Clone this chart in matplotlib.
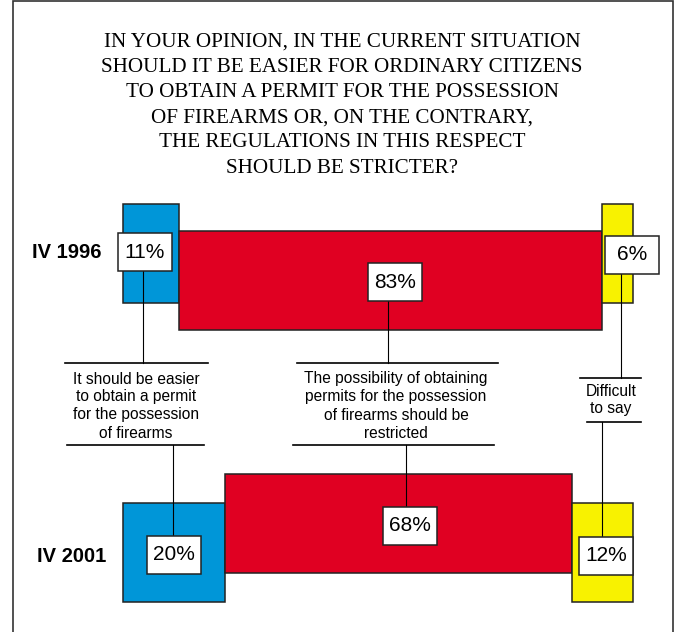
import matplotlib
matplotlib.use('Agg')
import matplotlib.pyplot as plt
from matplotlib.patches import Rectangle

plt.rcParams['font.family'] = ['Liberation Sans', 'DejaVu Sans']

# data
years = ['IV 1996', 'IV 2001']
easier = [11, 20]
stricter = [83, 68]
difficult = [6, 12]
answers = ['It should be easier\nto obtain a permit\nfor the possession\nof firearms',
           'The possibility of obtaining\npermits for the possession\nof firearms should be\nrestricted',
           'Difficult\nto say']
title = ('IN YOUR OPINION, IN THE CURRENT SITUATION\n'
         'SHOULD IT BE EASIER FOR ORDINARY CITIZENS\n'
         'TO OBTAIN A PERMIT FOR THE POSSESSION\n'
         'OF FIREARMS OR, ON THE CONTRARY,\n'
         'THE REGULATIONS IN THIS RESPECT\n'
         'SHOULD BE STRICTER?')
colors = ['#0096d8', '#e00022', '#f8f200']

# layout (pixels)
W, H = 679, 632
X0 = 123.0     # where 0% starts
PX = 5.1       # pixels per percent
bar_h = 99
side_top = [204, 503]
mid_top = [231, 474]
row_label_x = [101, 106]
row_label_y = [252, 556]
box_w, box_h = 54, 38
box_cy = [[252, 282, 254.5], [554.5, 525.5, 555.5]]
box_dx = [[-6, 4, 14], [0, 12, 4]]
line_dx = [[-8, -3, 3], [-1, 8, 0]]
top_rule_y = [363, 363, 378]
top_rule_x = [(65, 208), (297, 498), (580, 641)]
bot_rule_y = [445, 445, 422]
bot_rule_x = [(67, 204), (293, 494), (587, 641)]
ans_x = [136, 396, 611]
ans_y = [406, 406, 400]


def px(x):
    return (x - X0) / PX


fig = plt.figure(figsize=(W / 100, H / 100), dpi=100)
ax = fig.add_axes([0, 0, 1, 1])
ax.set_xlim(px(0), px(W))
ax.set_ylim(H, 0)
ax.axis('off')

# frame
fig.patches.append(Rectangle((13 / W, -0.05), 660 / W, 1.05 - 1.5 / H,
                             transform=fig.transFigure, fill=False,
                             edgecolor='#333333', linewidth=1.2))

ax.text(px(342), 105, title, ha='center', va='center', fontsize=15.2,
        family='Liberation Serif', linespacing=1.45)

for i, yr in enumerate(years):
    vals = [easier[i], stricter[i], difficult[i]]
    lefts = [0, vals[0], vals[0] + vals[1]]
    tops = [side_top[i], mid_top[i], side_top[i]]
    ax.bar(lefts, [bar_h] * 3, width=vals, bottom=tops, align='edge',
           color=colors, edgecolor='#222222', linewidth=1.1)
    ax.text(px(row_label_x[i]), row_label_y[i], yr, ha='right', va='center',
            fontsize=14.5, fontweight='bold')
    for j, v in enumerate(vals):
        cx = lefts[j] + v / 2
        bx = cx + box_dx[i][j] / PX
        lx = cx + line_dx[i][j] / PX
        cy = box_cy[i][j]
        if i == 0:
            ax.plot([lx, lx], [cy + box_h / 2, top_rule_y[j]], color='black', lw=0.8)
        else:
            ax.plot([lx, lx], [bot_rule_y[j], cy - box_h / 2], color='black', lw=0.8)
        ax.add_patch(Rectangle((bx - box_w / 2 / PX, cy - box_h / 2), box_w / PX, box_h,
                               facecolor='white', edgecolor='#222222', lw=1.1, zorder=3))
        ax.text(bx, cy, f'{v}%', ha='center', va='center', fontsize=15, zorder=4)

for j, txt in enumerate(answers):
    ax.plot([px(top_rule_x[j][0]), px(top_rule_x[j][1])], [top_rule_y[j]] * 2,
            color='black', lw=1.2)
    ax.plot([px(bot_rule_x[j][0]), px(bot_rule_x[j][1])], [bot_rule_y[j]] * 2,
            color='black', lw=1.2)
    ax.text(px(ans_x[j]), ans_y[j], txt, ha='center', va='center', fontsize=11.2,
            linespacing=1.25)

fig.savefig('out.png', dpi=100)
